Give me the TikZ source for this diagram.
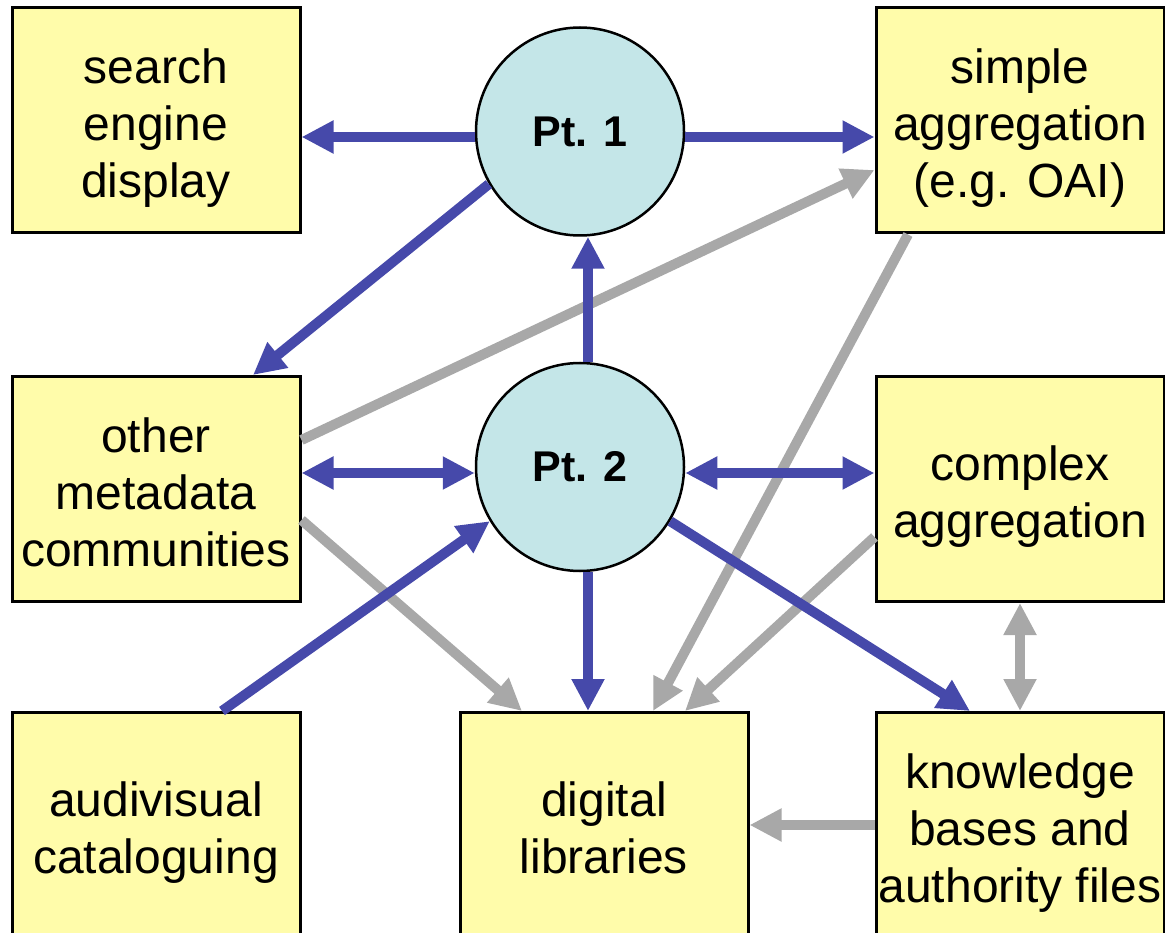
\documentclass[tikz,border=0pt]{standalone}
\usepackage{fontspec}
\setmainfont{Liberation Sans}
\usetikzlibrary{arrows.meta,calc}
\definecolor{boxfill}{HTML}{FFFCAA}
\definecolor{circfill}{HTML}{C4E6E8}
\definecolor{arrblue}{HTML}{4649AA}
\definecolor{arrgray}{HTML}{A8A8A8}
\newcommand{\boxtext}[1]{\raisebox{-9pt}[\height][\depth]{\begin{tabular}{@{}c@{}}#1\end{tabular}}}
\begin{document}
\begin{tikzpicture}[x=1pt,y=-1pt,
  box/.style={draw=black,line width=3pt,fill=boxfill,minimum width=288pt,minimum height=225pt,
    inner sep=0pt,font=\fontsize{48}{57}\selectfont},
  pt/.style={circle,draw=black,line width=2.5pt,fill=circfill,minimum size=208pt,inner sep=0pt,
    font=\fontsize{43}{52}\selectfont\bfseries},
  barrow/.style={draw=arrblue,line width=10pt,-{Triangle[length=32pt,width=31pt]}},
  bboth/.style={draw=arrblue,line width=10pt,{Triangle[length=32pt,width=31pt]}-{Triangle[length=32pt,width=31pt]}},
  garrow/.style={draw=arrgray,line width=10pt,-{Triangle[length=32pt,width=31pt]}},
  gboth/.style={draw=arrgray,line width=10pt,{Triangle[length=32pt,width=31pt]}-{Triangle[length=32pt,width=31pt]}}
]
\useasboundingbox (0,0) rectangle (1165,933);
\node[box] (sed) at (156,120.5) {\boxtext{search\\engine\\display}};
\node[box] (simp) at (1020,120.5) {\boxtext{simple\\aggregation\\(e.g. OAI)}};
\node[box] (other) at (156,489) {\boxtext{other\\metadata\\communities}};
\node[box] (comp) at (1020,489) {\boxtext{complex\\aggregation}};
\node[box] (audi) at (156,825) {\boxtext{audivisual\\cataloguing}};
\node[box] (dig) at (604,825) {\boxtext{digital\\libraries}};
\node[box] (know) at (1020,825) {\boxtext{knowledge\\bases and\\authority files}};
\node[pt] (pt1) at (580,131.5) {Pt. 1};
\node[pt] (pt2) at (580,467) {Pt. 2};
% gray arrows
\draw[garrow] ($(other.east)+(0,-49)$) -- ($(simp.west)+(0,49.5)$);
\draw[garrow] ($(simp.south)+(-112,0)$) -- ($(dig.north)+(49,0)$);
\draw[garrow] ($(comp.west)+(0,48)$) -- ($(dig.north)+(81,0)$);
\draw[garrow] ($(other.east)+(0,31)$) -- ($(dig.north)+(-82,0)$);
\draw[gboth] (comp.south) -- (know.north);
\draw[garrow] (know.west) -- (dig.east);
% blue arrows
\draw[barrow] ($(pt1.west)+(0,5.5)$) -- ($(sed.east)+(0,16.5)$);
\draw[barrow] ($(pt1.east)+(0,5.5)$) -- ($(simp.west)+(0,16.5)$);
\draw[barrow] (pt1.210.7) -- ($(other.north)+(97,0)$);
\draw[barrow] ($(pt2.north)+(8,0)$) -- ($(pt1.south)+(8,0)$);
\draw[bboth] ($(other.east)+(0,-16)$) -- ($(pt2.west)+(0,6)$);
\draw[bboth] ($(pt2.east)+(0,6)$) -- ($(comp.west)+(0,-16)$);
\draw[barrow] ($(audi.north)+(66,0)$) -- (pt2.211.4);
\draw[barrow] ($(pt2.south)+(8,0)$) -- ($(dig.north)+(-16,0)$);
\draw[barrow] (pt2.329) -- ($(know.north)+(-50,0)$);
\end{tikzpicture}
\end{document}
